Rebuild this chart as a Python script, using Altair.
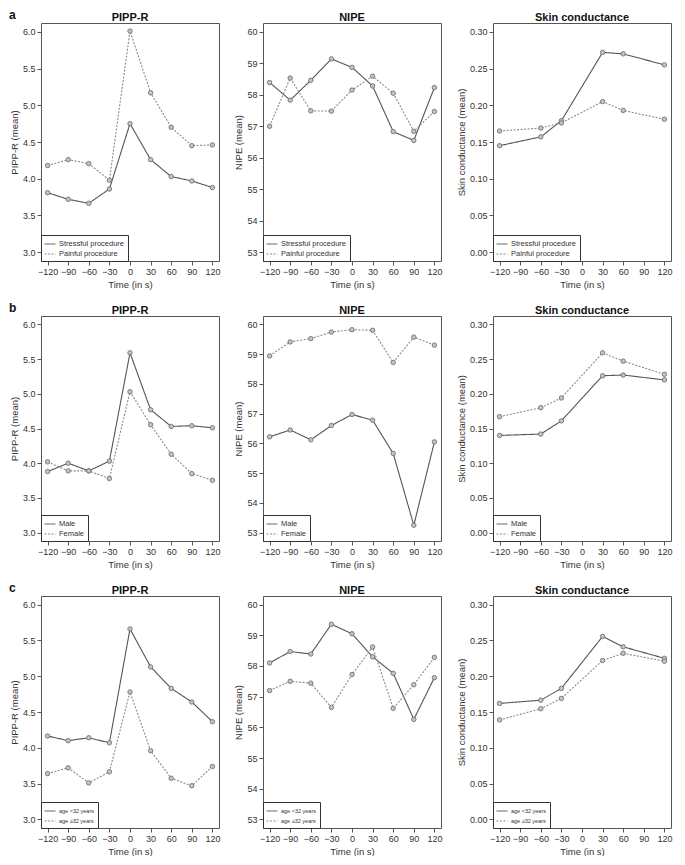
import altair as alt
import pandas as pd

# ---------------- data ----------------
time_full = [-120, -90, -60, -30, 0, 30, 60, 90, 120]
time_skin = [-120, -60, -30, 30, 60, 120]

# Row a: procedure type
a_groups = ["Stressful procedure", "Painful procedure"]
a_pipp_stress = [3.81, 3.72, 3.665, 3.86, 4.75, 4.26, 4.03, 3.97, 3.88]
a_pipp_pain = [4.18, 4.26, 4.205, 3.98, 6.01, 5.17, 4.70, 4.45, 4.46]
a_nipe_stress = [58.39, 57.83, 58.46, 59.14, 58.87, 58.28, 56.83, 56.55, 58.23]
a_nipe_pain = [57.00, 58.53, 57.49, 57.48, 58.15, 58.59, 58.05, 56.84, 57.47]
a_skin_stress = [0.145, 0.157, 0.179, 0.272, 0.270, 0.255]
a_skin_pain = [0.165, 0.169, 0.176, 0.205, 0.193, 0.181]

# Row b: sex
b_groups = ["Male", "Female"]
b_pipp_male = [3.88, 4.00, 3.89, 4.03, 5.59, 4.77, 4.53, 4.54, 4.51]
b_pipp_female = [4.02, 3.89, 3.89, 3.78, 5.03, 4.555, 4.13, 3.85, 3.755]
b_nipe_male = [56.22, 56.45, 56.12, 56.60, 56.97, 56.78, 55.66, 53.25, 56.05]
b_nipe_female = [58.94, 59.41, 59.52, 59.74, 59.82, 59.80, 58.72, 59.57, 59.30]
b_skin_male = [0.140, 0.142, 0.161, 0.226, 0.227, 0.220]
b_skin_female = [0.167, 0.180, 0.194, 0.259, 0.247, 0.228]

# Row c: age
c_groups = ["age <32 years", "age \u226532 years"]
c_pipp_young = [4.165, 4.10, 4.14, 4.07, 5.66, 5.13, 4.83, 4.64, 4.365]
c_pipp_old = [3.64, 3.72, 3.51, 3.665, 4.78, 3.96, 3.575, 3.47, 3.74]
c_nipe_young = [58.10, 58.47, 58.39, 59.36, 59.05, 58.30, 57.76, 56.26, 57.62]
c_nipe_old = [57.20, 57.50, 57.44, 56.65, 57.72, 58.62, 56.62, 57.39, 58.28]
c_skin_young = [0.162, 0.1665, 0.183, 0.2555, 0.241, 0.225]
c_skin_old = [0.139, 0.1545, 0.169, 0.222, 0.232, 0.221]

pipp_ticks = [3.0, 3.5, 4.0, 4.5, 5.0, 5.5, 6.0]
nipe_ticks = [53, 54, 55, 56, 57, 58, 59, 60]
skin_ticks = [0.0, 0.05, 0.10, 0.15, 0.20, 0.25, 0.30]

FONT = "Liberation Sans"


def panel(times, s1, s2, groups, measure, ydomain, yticks, yfmt,
          width, height, legend_font, letter=None):
    n = len(times)
    df = pd.DataFrame({
        "time": list(times) * 2,
        "value": list(s1) + list(s2),
        "group": [groups[0]] * n + [groups[1]] * n,
    })
    base = alt.Chart(df)
    x = alt.X("time:Q",
              scale=alt.Scale(domain=[-129.6, 129.6], nice=False, zero=False),
              axis=alt.Axis(values=time_full, title="Time (in s)", format="d"))
    y = alt.Y("value:Q",
              scale=alt.Scale(domain=ydomain, nice=False, zero=False),
              axis=alt.Axis(values=yticks, format=yfmt, title=f"{measure} (mean)"))
    leg = alt.Legend(orient="bottom-left", offset=0, title=None,
                     labelFontSize=legend_font, symbolType="stroke",
                     symbolSize=120, symbolStrokeWidth=1, padding=3,
                     rowPadding=0, labelOffset=3, strokeColor="#333333",
                     fillColor="white", labelColor="#333333", labelFont=FONT)
    line = base.mark_line(strokeWidth=1.1).encode(
        x=x, y=y,
        color=alt.Color("group:N", scale=alt.Scale(domain=groups, range=["#555555", "#8a8a8a"]), legend=leg),
        strokeDash=alt.StrokeDash("group:N", scale=alt.Scale(domain=groups, range=[[1, 0], [2, 1.5]]), legend=leg),
    )
    pts = base.mark_point(shape="circle", size=20, fill="#c4c4c4", stroke="#666666",
                          strokeWidth=0.8, opacity=1).encode(x=x, y=y, detail="group:N")
    ttl = alt.Chart(pd.DataFrame({"t": [measure]})).mark_text(
        fontWeight="bold", fontSize=11, align="center", baseline="bottom", font=FONT, color="#111"
    ).encode(x=alt.value(width / 2), y=alt.value(0), text="t:N")
    layers = [line, pts, ttl]
    if letter is not None:
        lab = alt.Chart(pd.DataFrame({"t": [letter]})).mark_text(
            fontWeight="bold", fontSize=12, align="left", baseline="bottom", font=FONT, color="#111"
        ).encode(x=alt.value(-32), y=alt.value(-1), text="t:N")
        layers.append(lab)
    return alt.layer(*layers).resolve_scale(color="independent", strokeDash="independent").properties(
        width=width, height=height,
    )


def row(groups, pipp1, pipp2, nipe1, nipe2, skin1, skin2, height, legend_font, letter):
    p1 = panel(time_full, pipp1, pipp2, groups, "PIPP-R", [2.88, 6.12], pipp_ticks, ".1f",
               178, height, legend_font, letter)
    p2 = panel(time_full, nipe1, nipe2, groups, "NIPE", [52.72, 60.28], nipe_ticks, "d",
               178, height, legend_font)
    p3 = panel(time_skin, skin1, skin2, groups, "Skin conductance", [-0.012, 0.312], skin_ticks, ".2f",
               178, height, legend_font)
    return alt.hconcat(p1, p2, p3, spacing=12).resolve_scale(
        color="independent", strokeDash="independent", x="independent", y="independent"
    ).resolve_legend(color="independent", strokeDash="independent")


ra = row(a_groups, a_pipp_stress, a_pipp_pain, a_nipe_stress, a_nipe_pain,
         a_skin_stress, a_skin_pain, 238, 7.5, "a")
rb = row(b_groups, b_pipp_male, b_pipp_female, b_nipe_male, b_nipe_female,
         b_skin_male, b_skin_female, 225, 7.5, "b")
rc = row(c_groups, c_pipp_young, c_pipp_old, c_nipe_young, c_nipe_old,
         c_skin_young, c_skin_old, 232, 5.5, "c")

chart = alt.vconcat(ra, rb, rc, spacing=12).resolve_scale(
    color="independent", strokeDash="independent", x="independent", y="independent"
).resolve_legend(color="independent", strokeDash="independent").properties(
    padding={"left": 0, "top": 0, "right": 0, "bottom": 0}
).configure_view(
    stroke="#555555", strokeWidth=1
).configure_axis(
    domain=False, grid=False, tickColor="#555555", tickSize=4, tickWidth=1,
    labelColor="#333333", labelFont=FONT, labelFontSize=9, labelPadding=2,
    labelFlush=False, labelOverlap=False,
    titleFont=FONT, titleFontSize=9.5, titleFontWeight="normal", titleColor="#333333",
    titlePadding=3
).configure_axisY(
    labelAngle=0
)

chart.save("out.html", embed_options={"renderer": "svg", "actions": False})
